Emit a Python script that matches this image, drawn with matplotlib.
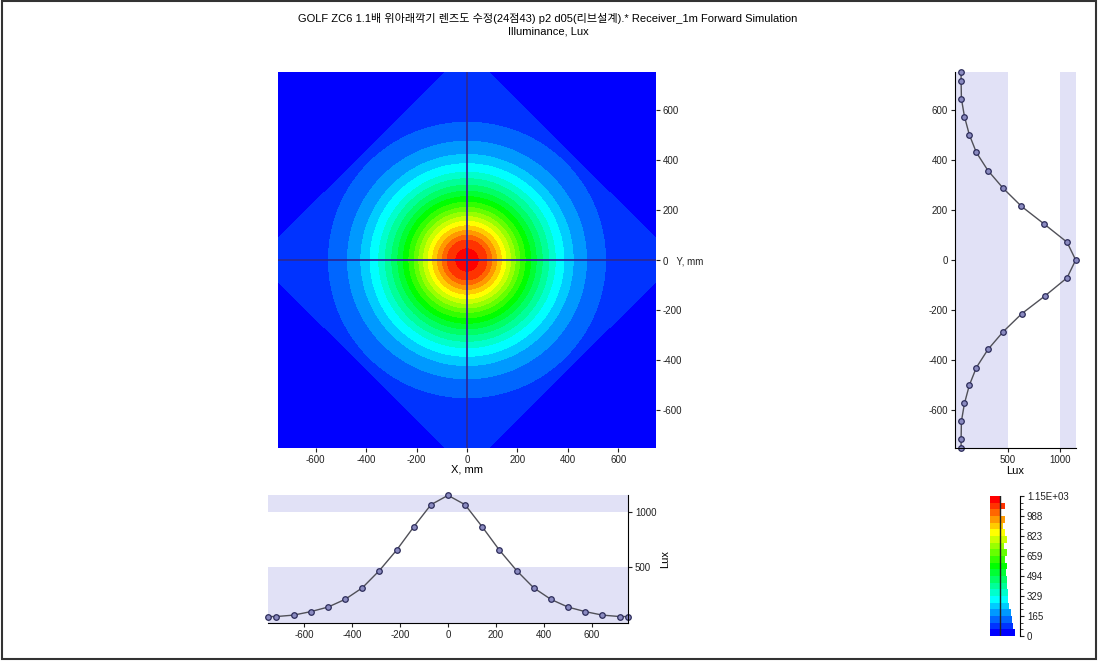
import numpy as np
import matplotlib
matplotlib.use("Agg")
import matplotlib.pyplot as plt
from matplotlib.colors import hsv_to_rgb, ListedColormap, BoundaryNorm
from matplotlib.patches import Rectangle

plt.rcParams['font.family'] = ['Liberation Sans', 'Noto Sans CJK KR', 'DejaVu Sans']
plt.rcParams['axes.unicode_minus'] = False

# ---------------- data ----------------
pos_mm = [-750, -715, -643, -572, -500, -429, -357, -286, -214, -143, -71, 0,
          71, 143, 214, 286, 357, 429, 500, 572, 643, 715, 750]
lux_x = [58, 58, 71, 102, 143, 212, 316, 471, 655, 863, 1063, 1147,
         1063, 863, 655, 471, 316, 212, 143, 102, 71, 58, 58]
lux_y = [58, 58, 61, 90, 136, 203, 313, 458, 635, 856, 1065, 1147,
         1065, 849, 632, 458, 313, 203, 136, 90, 61, 58, 58]
# corner fall-off of the map, read along the diagonal (|x|+|y| in mm -> lux)
corner_l1 = [700, 835, 1000]
corner_lux = [200, 54.8, 0]
zmax = 1150
n_levels = 21
hist_width = [25, 23, 22, 21, 19, 18, 18, 17, 17, 16, 17, 15, 17, 14, 17, 15,
              13, 15, 11, 15, 10]
cbar_ticks = [0, 165, 329, 494, 659, 823, 988, 1150]
cbar_labels = ['0', '165', '329', '494', '659', '823', '988', '1.15E+03']
axis_ticks = [-600, -400, -200, 0, 200, 400, 600]
lux_ticks = [500, 1000]

title1 = "GOLF ZC6 1.1배 위아래깍기 렌즈도 수정(24점43) p2 d05(리브설계).* Receiver_1m Forward Simulation"
title2 = "Illuminance, Lux"

# ---------------- 2-D map built from the measured profiles ----------------
x = np.array(pos_mm, float)
hx = np.array(lux_x, float)
vy = np.array(lux_y, float)
half = x >= 0
prof_r = (hx[half] + vy[half]) / 2.0
g = np.linspace(-750, 750, 301)
XX, YY = np.meshgrid(g, g)
rad = np.interp(np.hypot(XX, YY), x[half], prof_r)
cut = np.interp(np.abs(XX) + np.abs(YY), corner_l1, corner_lux, left=np.inf)
Z = np.minimum(rad, cut)

levels = np.linspace(0, zmax, n_levels + 1)
hues = np.linspace(240, 0, n_levels) / 360.0
cols = [hsv_to_rgb((h, 1.0, 1.0)) for h in hues]
cmap = ListedColormap(cols)
norm = BoundaryNorm(levels, n_levels)

band = '#e1e1f6'
linec = '#505058'
mface = '#8a8ac0'
medge = '#2c2c5a'
fs = 7

fig = plt.figure(figsize=(10.99, 6.61), dpi=100)

fig.text(0.4986, 1 - 19 / 661, title1, ha='center', va='center', fontsize=8)
fig.text(0.4986, 1 - 31 / 661, title2, ha='center', va='center', fontsize=8)

fig.patches.append(Rectangle((0.0015, 0.003), 0.996, 0.995, transform=fig.transFigure,
                             fill=False, edgecolor='#333333', lw=1.5))

# ---------------- main map ----------------
ax = fig.add_axes([278 / 1099, 1 - 448 / 661, 378 / 1099, 376 / 661])
ax.contourf(g, g, Z, levels=levels, cmap=cmap, norm=norm)
ax.axhline(0, color='#2a2a9a', lw=1.3)
ax.axvline(0, color='#2a2a9a', lw=1.3)
ax.set_xlim(-750, 750)
ax.set_ylim(-750, 750)
for s in ax.spines.values():
    s.set_visible(False)
ax.yaxis.tick_right()
ax.set_xticks(axis_ticks)
ax.set_yticks(axis_ticks)
ax.set_yticklabels([str(t) if t != 0 else '0   Y, mm' for t in axis_ticks])
ax.tick_params(labelsize=fs, length=3, width=0.8, colors='#222222', pad=2)
for lab in ax.get_yticklabels():
    lab.set_horizontalalignment('left')
ax.set_xlabel('X, mm', fontsize=8, labelpad=0)

# ---------------- right (vertical) profile ----------------
axr = fig.add_axes([955 / 1099, 1 - 448 / 661, 121 / 1099, 376 / 661])
axr.axvspan(0, 500, color=band, lw=0)
axr.axvspan(1000, zmax, color=band, lw=0)
axr.plot(vy, x, color=linec, lw=1.0, marker='o', ms=4.0, mfc=mface, mec=medge, mew=0.9,
         clip_on=False)
axr.set_xlim(0, zmax)
axr.set_ylim(-750, 750)
axr.set_xticks(lux_ticks)
axr.set_yticks(axis_ticks)
axr.spines['top'].set_visible(False)
axr.spines['right'].set_visible(False)
axr.tick_params(labelsize=fs, length=3, width=0.8, colors='#222222', pad=2)
axr.set_xlabel('Lux', fontsize=8, labelpad=1)

# ---------------- bottom (horizontal) profile ----------------
axb = fig.add_axes([268 / 1099, 1 - 623 / 661, 360 / 1099, 128 / 661])
axb.axhspan(0, 500, color=band, lw=0)
axb.axhspan(1000, zmax, color=band, lw=0)
axb.plot(x, hx, color=linec, lw=1.0, marker='o', ms=4.0, mfc=mface, mec=medge, mew=0.9,
         clip_on=False)
axb.set_xlim(-750, 750)
axb.set_ylim(0, zmax)
axb.set_xticks(axis_ticks)
axb.set_yticks(lux_ticks)
axb.yaxis.tick_right()
axb.yaxis.set_label_position('right')
axb.spines['top'].set_visible(False)
axb.spines['left'].set_visible(False)
axb.tick_params(labelsize=fs, length=3, width=0.8, colors='#222222', pad=2)
axb.set_ylabel('Lux', fontsize=8, labelpad=3)

# ---------------- histogram colour bar ----------------
axc = fig.add_axes([990 / 1099, 1 - 636 / 661, 30 / 1099, 140 / 661])
step = zmax / n_levels
axc.barh(levels[:-1], hist_width, height=step, align='edge', color=cols, lw=0)
axc.axvline(10, color='#222222', lw=1.0)
axc.set_xlim(0, 30)
axc.set_ylim(0, zmax)
axc.set_xticks([])
for k in ['top', 'left', 'bottom']:
    axc.spines[k].set_visible(False)
axc.spines['right'].set_linewidth(0.8)
axc.yaxis.tick_right()
axc.set_yticks(cbar_ticks)
axc.set_yticklabels(cbar_labels)
axc.set_yticks(levels, minor=True)
axc.tick_params(axis='y', which='major', labelsize=fs, length=3, width=0.8, pad=2,
                colors='#222222')
axc.tick_params(axis='y', which='minor', length=2, width=0.6, colors='#222222')

fig.savefig('out.png', dpi=100)
